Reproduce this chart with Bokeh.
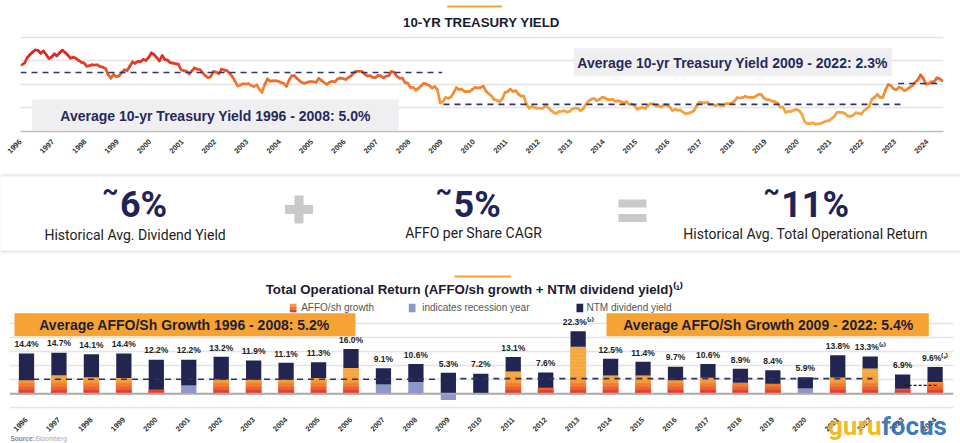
import math
from bokeh.plotting import figure
from bokeh.layouts import column
from bokeh.models import ColumnDataSource, FixedTicker, Range1d, Span, Label, BoxAnnotation
from bokeh.core.properties import value
from bokeh.embed import file_html
from bokeh.resources import INLINE

# ---------------- data ----------------
treasury_start_year = 1996
treasury_10y_monthly = [
    5.65, 5.81, 6.27, 6.51, 6.74, 6.91, 6.87, 6.64, 6.83, 6.53, 6.20, 6.30,   # 1996
    6.58, 6.42, 6.69, 6.89, 6.71, 6.49, 6.22, 6.30, 6.21, 6.03, 5.88, 5.81,   # 1997
    5.54, 5.57, 5.65, 5.64, 5.65, 5.50, 5.46, 5.34, 4.81, 4.53, 4.83, 4.65,   # 1998
    4.72, 5.00, 5.23, 5.18, 5.54, 5.90, 5.79, 5.94, 5.92, 6.11, 6.03, 6.28,   # 1999
    6.66, 6.52, 6.26, 5.99, 6.44, 6.10, 6.05, 5.83, 5.80, 5.74, 5.72, 5.24,   # 2000
    5.16, 5.10, 4.89, 5.14, 5.39, 5.28, 5.24, 4.97, 4.73, 4.57, 4.65, 5.09,   # 2001
    5.04, 4.91, 5.28, 5.21, 5.16, 4.93, 4.65, 4.26, 3.87, 3.94, 4.05, 4.03,   # 2002
    4.05, 3.90, 3.81, 3.96, 3.57, 3.33, 3.98, 4.45, 4.27, 4.29, 4.30, 4.27,   # 2003
    4.15, 4.08, 3.83, 4.35, 4.72, 4.73, 4.50, 4.28, 4.13, 4.10, 4.19, 4.23,   # 2004
    4.22, 4.17, 4.50, 4.34, 4.14, 4.00, 4.18, 4.26, 4.20, 4.46, 4.54, 4.47,   # 2005
    4.42, 4.57, 4.72, 4.99, 5.11, 5.11, 5.09, 4.88, 4.72, 4.73, 4.60, 4.56,   # 2006
    4.76, 4.72, 4.56, 4.69, 4.75, 5.10, 5.00, 4.67, 4.52, 4.53, 4.15, 4.10,   # 2007
    3.74, 3.74, 3.51, 3.68, 3.88, 4.10, 4.01, 3.89, 3.69, 3.81, 3.53, 2.42,   # 2008
    2.52, 2.87, 2.82, 2.93, 3.29, 3.72, 3.56, 3.59, 3.40, 3.39, 3.40, 3.59,   # 2009
    3.73, 3.69, 3.73, 3.85, 3.42, 3.20, 3.01, 2.70, 2.65, 2.54, 2.76, 3.29,   # 2010
    3.39, 3.58, 3.41, 3.46, 3.17, 3.00, 3.00, 2.30, 1.98, 2.15, 2.01, 1.98,   # 2011
    1.97, 1.97, 2.17, 2.05, 1.80, 1.62, 1.53, 1.68, 1.72, 1.75, 1.65, 1.72,   # 2012
    1.91, 1.98, 1.96, 1.76, 1.93, 2.30, 2.58, 2.74, 2.81, 2.62, 2.72, 2.90,   # 2013
    2.86, 2.71, 2.72, 2.71, 2.56, 2.60, 2.54, 2.42, 2.53, 2.30, 2.33, 2.21,   # 2014
    1.88, 1.98, 2.04, 1.94, 2.20, 2.36, 2.32, 2.17, 2.17, 2.07, 2.26, 2.24,   # 2015
    2.09, 1.78, 1.89, 1.81, 1.81, 1.64, 1.50, 1.56, 1.63, 1.76, 2.14, 2.49,   # 2016
    2.43, 2.42, 2.48, 2.30, 2.30, 2.19, 2.32, 2.21, 2.20, 2.36, 2.35, 2.40,   # 2017
    2.58, 2.86, 2.84, 2.87, 2.98, 2.91, 2.89, 2.89, 3.00, 3.15, 3.12, 2.83,   # 2018
    2.71, 2.68, 2.57, 2.53, 2.40, 2.07, 2.06, 1.63, 1.70, 1.71, 1.81, 1.86,   # 2019
    1.76, 1.50, 0.87, 0.66, 0.67, 0.73, 0.62, 0.65, 0.68, 0.79, 0.87, 0.93,   # 2020
    1.08, 1.26, 1.61, 1.64, 1.62, 1.52, 1.32, 1.28, 1.37, 1.58, 1.56, 1.47,   # 2021
    1.76, 1.93, 2.13, 2.75, 2.90, 3.14, 2.90, 2.90, 3.52, 3.98, 3.89, 3.62,   # 2022
    3.53, 3.75, 3.66, 3.46, 3.57, 3.75, 3.90, 4.17, 4.38, 4.80, 4.50, 4.02,   # 2023
    4.06, 4.21, 4.21, 4.54, 4.48, 4.31,                                       # 2024
]

avg_yield_1996_2008 = 5.0
avg_yield_2009_2022 = 2.3
yield_level_2023_2024 = 4.07

bar_years = list(range(1996, 2025))
affo_growth = [4.8, 6.6, 5.9, 5.6, 1.4, 3.0, 5.1, 5.0, 5.0, 5.6,
               9.2, 3.3, 4.2, -2.2, 0.2, 8.0, 2.2, 16.8, 6.5, 6.5,
               4.8, 5.7, 3.9, 3.6, 1.9, 5.8, 9.0, 1.8, 4.2]
ntm_dividend_yield = [9.6, 8.1, 8.2, 8.8, 10.8, 9.2, 8.1, 6.9, 6.1, 5.7,
                      6.8, 5.8, 6.4, 7.5, 7.0, 5.1, 5.4, 5.5, 6.0, 4.9,
                      4.9, 4.9, 5.0, 4.8, 4.0, 8.0, 4.3, 5.1, 5.4]
total_return = [14.4, 14.7, 14.1, 14.4, 12.2, 12.2, 13.2, 11.9, 11.1, 11.3,
                16.0, 9.1, 10.6, 5.3, 7.2, 13.1, 7.6, 22.3, 12.5, 11.4,
                9.7, 10.6, 8.9, 8.4, 5.9, 13.8, 13.3, 6.9, 9.6]
label_notes = {2013: "\u207d\u00b2\u207e", 2022: "\u207d\u00b2\u207e", 2024: "\u207d\u00b3\u207e"}
recession_years = [2001, 2007, 2008, 2009, 2020]

avg_affo_1996_2008 = 5.2
avg_affo_2009_2022 = 5.4
affo_level_2023_2024 = 3.0

# ---------------- styling helpers ----------------
NAVY = "#232551"
RECESSION = "#8F96C9"
BOX_ORANGE = "#F7A334"
TITLE_C = "#1B1B2F"
BOLD_FONT = "Liberation Sans"
BIG_FONT = "Roboto"


def interp_color(v, anchors):
    if v <= anchors[0][0]:
        c = anchors[0][1]
    elif v >= anchors[-1][0]:
        c = anchors[-1][1]
    else:
        for (a, ca), (b, cb) in zip(anchors, anchors[1:]):
            if a <= v <= b:
                t = (v - a) / (b - a)
                c = tuple(ca[i] + t * (cb[i] - ca[i]) for i in range(3))
                break
    return "#%02x%02x%02x" % tuple(int(round(x)) for x in c)


line_anchors = [(0.5, (247, 168, 72)), (2.5, (245, 158, 58)), (3.5, (243, 138, 50)),
                (4.5, (236, 104, 44)), (5.5, (228, 66, 40)), (6.8, (220, 34, 40))]
bar_anchors = [(0.0, (226, 38, 40)), (2.0, (236, 90, 44)), (4.0, (244, 140, 50)),
               (5.5, (247, 163, 58)), (8.0, (247, 167, 64))]

# ================= TOP: 10-yr treasury =================
A_X0, A_X1 = 1996.0, 2024.5
A_Y1 = 11.11
pA = figure(width=960, height=160, x_range=Range1d(A_X0, A_X1), y_range=Range1d(0, A_Y1),
            output_backend="svg", toolbar_location=None, frame_align=False,
            min_border_left=20, min_border_right=17, min_border_top=0, min_border_bottom=29)
pA.outline_line_color = None
pA.yaxis.visible = False
pA.xgrid.visible = False
pA.ygrid.ticker = FixedTicker(ticks=[2, 4, 6, 8])
pA.ygrid.grid_line_color = "#E4E4E4"
pA.ygrid.grid_line_width = 1.5


def ax_(px):
    return A_X0 + (px - 20) * (A_X1 - A_X0) / 923.0


def ay_(py):
    return (131 - py) * A_Y1 / 131.0


xa = pA.xaxis[0]
xa.ticker = FixedTicker(ticks=bar_years)
xa.major_label_orientation = math.pi / 4
xa.major_label_text_font = BOLD_FONT
xa.major_label_text_font_style = "bold"
xa.major_label_text_font_size = "7.5px"
xa.major_label_text_color = "#333333"
xa.axis_line_color = "#BDBDBD"
xa.axis_line_width = 1.5
xa.major_tick_line_color = None
xa.minor_tick_line_color = None
xa.major_label_standoff = 3

n = len(treasury_10y_monthly)
tx = [treasury_start_year + (i + 0.5) / 12.0 for i in range(n)]
seg = ColumnDataSource(dict(
    x0=tx[:-1], x1=tx[1:], y0=treasury_10y_monthly[:-1], y1=treasury_10y_monthly[1:],
    c=[interp_color((a + b) / 2, line_anchors) for a, b in zip(treasury_10y_monthly[:-1], treasury_10y_monthly[1:])]))
pA.segment(x0="x0", y0="y0", x1="x1", y1="y1", line_color="c", line_width=2.7, line_cap="round", source=seg)

pA.segment(x0=[1996.0, 2009.06, 2023.1], x1=[2009.02, 2023.17, 2024.42],
           y0=[avg_yield_1996_2008, avg_yield_2009_2022, yield_level_2023_2024],
           y1=[avg_yield_1996_2008, avg_yield_2009_2022, yield_level_2023_2024],
           line_color="#2F3468", line_width=1.6, line_dash="6 5")

pA.add_layout(BoxAnnotation(left=ax_(31.7), right=ax_(398.3), top=ay_(99), bottom=ay_(130),
                            fill_color="#EFEFF1", fill_alpha=1, line_color=None))
pA.add_layout(BoxAnnotation(left=ax_(573.3), right=ax_(891.7), top=ay_(47.7), bottom=ay_(75.7),
                            fill_color="#EFEFF1", fill_alpha=1, line_color=None))
pA.add_layout(Label(x=ax_(215), y=ay_(115), text="Average 10-yr Treasury Yield 1996 - 2008: %.1f%%" % avg_yield_1996_2008,
                    text_align="center", text_baseline="middle", text_font=BOLD_FONT, text_font_style="bold",
                    text_font_size="14px", text_color="#262A5A"))
pA.add_layout(Label(x=ax_(732), y=ay_(62), text="Average 10-yr Treasury Yield 2009 - 2022: %.1f%%" % avg_yield_2009_2022,
                    text_align="center", text_baseline="middle", text_font=BOLD_FONT, text_font_style="bold",
                    text_font_size="14px", text_color="#262A5A"))
pA.add_layout(Label(x=ax_(481), y=ay_(22), text="10-YR TREASURY YIELD", text_align="center",
                    text_baseline="middle", text_font=BOLD_FONT, text_font_style="bold",
                    text_font_size="13.3px", text_color=TITLE_C))
pA.segment(x0=[ax_(446.7)], x1=[ax_(501.7)], y0=[ay_(6)], y1=[ay_(6)], line_color=BOX_ORANGE, line_width=1.8)

# ================= MIDDLE band =================
pB = figure(width=960, height=100, x_range=Range1d(0, 960), y_range=Range1d(0, 100),
            output_backend="svg", toolbar_location=None, frame_align=False,
            min_border_left=0, min_border_right=0, min_border_top=0, min_border_bottom=0)
pB.outline_line_color = None
pB.xaxis.visible = False
pB.yaxis.visible = False
pB.grid.visible = False


def by_(py):
    return 260 - py


pB.quad(left=[0, 0, 0], right=[960, 960, 960], top=[by_(172.5), by_(174.5), by_(176)],
        bottom=[by_(253.5), by_(251.5), by_(250)], fill_color=["#F4F4F4", "#E9E9E9", "#FFFFFF"],
        line_color=None)
# plus and equal signs
pB.quad(left=[284.5, 294.0, 618, 618], right=[312.5, 303.0, 646, 646],
        top=[by_(204.5), by_(195), by_(199), by_(213.5)], bottom=[by_(213.5), by_(223), by_(207), by_(221.5)],
        fill_color="#C9C9C9", line_color=None)

big = [("6%", 119.4, "Historical Avg. Dividend Yield", 134.6, 234.5),
       ("5%", 453.0, "AFFO per Share CAGR", 473.0, 232.0),
       ("11%", 780.7, "Historical Avg. Total Operational Return", 805.0, 233.0)]
for num, nx, sub, sx, sy in big:
    pB.add_layout(Label(x=nx, y=by_(204.5), text=num, text_align="left", text_baseline="middle",
                        text_font=BIG_FONT, text_font_style="bold", text_font_size="36px", text_color="#1F2356"))
    pB.add_layout(Label(x=nx - 1.5, y=by_(191), text="~", text_align="right", text_baseline="middle",
                        text_font=BIG_FONT, text_font_style="bold", text_font_size="25px", text_color="#1F2356"))
    pB.add_layout(Label(x=sx, y=by_(sy), text=sub, text_align="center", text_baseline="middle",
                        text_font=BIG_FONT, text_font_size="14px", text_color="#222222"))

# ================= BOTTOM: total operational return =================
C_X0, C_X1 = 1995.476, 2024.567
C_Y0, C_Y1 = -17.75, 47.6
pC = figure(width=960, height=183, x_range=Range1d(C_X0, C_X1), y_range=Range1d(C_Y0, C_Y1),
            output_backend="svg", toolbar_location=None, frame_align=False,
            min_border_left=9, min_border_right=7, min_border_top=0, min_border_bottom=0)
pC.outline_line_color = None
pC.yaxis.visible = False
pC.xgrid.visible = False
pC.ygrid.ticker = FixedTicker(ticks=[-5, 5, 10, 15, 20, 25])
pC.ygrid.grid_line_color = "#E4E4E4"
pC.ygrid.grid_line_width = 1.5


def cx_(px):
    return C_X0 + (px - 9) * (C_X1 - C_X0) / 944.0


def cy_(py):
    return (393.3 - py) / 2.8


xc = pC.xaxis[0]
xc.fixed_location = cy_(408)
xc.ticker = FixedTicker(ticks=bar_years)
xc.major_label_orientation = math.pi / 4
xc.major_label_text_font = BOLD_FONT
xc.major_label_text_font_style = "bold"
xc.major_label_text_font_size = "7.5px"
xc.major_label_text_color = "#333333"
xc.axis_line_color = None
xc.major_tick_line_color = None
xc.minor_tick_line_color = None
xc.major_label_standoff = 4

pC.add_layout(Span(location=0, dimension="width", line_color="#A9A9A9", line_width=2))

BW = 0.47
gx, gb, gt, gc = [], [], [], []
step = 0.5
for yr, g in zip(bar_years, affo_growth):
    if yr in recession_years or g <= 0:
        continue
    k = 0.0
    while k < g - 1e-9:
        top = min(k + step, g)
        gx.append(yr); gb.append(k); gt.append(top); gc.append(interp_color((k + top) / 2, bar_anchors))
        k += step
pC.vbar(x=gx, bottom=gb, top=gt, width=BW, fill_color=gc, line_color=gc, line_width=0.6)

rx = [yr for yr in bar_years if yr in recession_years]
rg = [g for yr, g in zip(bar_years, affo_growth) if yr in recession_years]
pC.vbar(x=rx, bottom=[min(g, 0) for g in rg], top=[max(g, 0) for g in rg], width=BW,
        fill_color=RECESSION, line_color=None)

nb = [max(g, 0) for g in affo_growth]
nt = [max(g, 0) + d for g, d in zip(affo_growth, ntm_dividend_yield)]
pC.vbar(x=bar_years, bottom=nb, top=nt, width=BW, fill_color=NAVY, line_color=None)

pC.text(x=bar_years, y=[t + 1.5 for t in nt],
        text=["%.1f%%%s" % (v, label_notes.get(yr, "")) for yr, v in zip(bar_years, total_return)],
        text_align="center", text_baseline="bottom", text_font=value(BOLD_FONT), text_font_style="bold",
        text_font_size="8.5px", text_color="#222222")

pC.segment(x0=[1996.2, 2009.37], x1=[2008.69, 2022.07], y0=[avg_affo_1996_2008, avg_affo_2009_2022],
           y1=[avg_affo_1996_2008, avg_affo_2009_2022], line_color="#2F3468", line_width=1.6, line_dash="6 5")
pC.segment(x0=[2023.03], x1=[2024.08], y0=[affo_level_2023_2024], y1=[affo_level_2023_2024],
           line_color="#111111", line_width=1.3, line_dash="3 2")

pC.add_layout(BoxAnnotation(left=cx_(14), right=cx_(355), top=cy_(312.7), bottom=cy_(335.7),
                            fill_color=BOX_ORANGE, fill_alpha=1, line_color=None))
pC.add_layout(BoxAnnotation(left=cx_(606), right=cx_(928.3), top=cy_(312.7), bottom=cy_(335.7),
                            fill_color=BOX_ORANGE, fill_alpha=1, line_color=None))
pC.add_layout(Label(x=cx_(184), y=cy_(324.5), text="Average AFFO/Sh Growth 1996 - 2008: %.1f%%" % avg_affo_1996_2008,
                    text_align="center", text_baseline="middle", text_font=BOLD_FONT, text_font_style="bold",
                    text_font_size="14px", text_color="#1E1E3A"))
pC.add_layout(Label(x=cx_(768), y=cy_(324.5), text="Average AFFO/Sh Growth 2009 - 2022: %.1f%%" % avg_affo_2009_2022,
                    text_align="center", text_baseline="middle", text_font=BOLD_FONT, text_font_style="bold",
                    text_font_size="14px", text_color="#1E1E3A"))

pC.add_layout(Label(x=cx_(474), y=cy_(289), text="Total Operational Return (AFFO/sh growth + NTM dividend yield)\u207d\u00b9\u207e",
                    text_align="center", text_baseline="middle", text_font=BOLD_FONT, text_font_style="bold",
                    text_font_size="13.3px", text_color=TITLE_C))
pC.segment(x0=[cx_(454)], x1=[cx_(510.7)], y0=[cy_(276)], y1=[cy_(276)], line_color=BOX_ORANGE, line_width=1.8)

# legend
pC.quad(left=[cx_(289.3)] * 3, right=[cx_(296)] * 3,
        top=[cy_(303.3), cy_(306.1), cy_(308.9)], bottom=[cy_(306.1), cy_(308.9), cy_(311.7)],
        fill_color=["#F59A36", "#EE6A30", "#E43A2C"], line_color=None)
pC.quad(left=[cx_(408.3), cx_(576)], right=[cx_(415), cx_(582.7)], top=[cy_(303.3)] * 2, bottom=[cy_(311.7)] * 2,
        fill_color=[RECESSION, NAVY], line_color=None)
for txt, lx in [("AFFO/sh growth", 300.7), ("indicates recession year", 421.7), ("NTM dividend yield", 586)]:
    pC.add_layout(Label(x=cx_(lx), y=cy_(307.5), text=txt, text_align="left", text_baseline="middle",
                        text_font=BOLD_FONT, text_font_size="10px", text_color="#555555"))

# footer / watermark
pC.add_layout(Label(x=cx_(10), y=cy_(438), text="Source:", text_align="left", text_baseline="middle",
                    text_font=BOLD_FONT, text_font_style="bold", text_font_size="6.5px", text_color="#888888"))
pC.add_layout(Label(x=cx_(35), y=cy_(438), text="Bloomberg", text_align="left", text_baseline="middle",
                    text_font=BOLD_FONT, text_font_size="6.5px", text_color="#AAAAAA"))
pC.add_layout(Label(x=cx_(881), y=cy_(426), text="guru", text_align="right", text_baseline="alphabetic",
                    text_font=BIG_FONT, text_font_style="bold", text_font_size="26px", text_color="#F2B10A",
                    text_alpha=0.9))
pC.add_layout(Label(x=cx_(881), y=cy_(426), text="focus", text_align="left", text_baseline="alphabetic",
                    text_font=BIG_FONT, text_font_style="bold", text_font_size="26px", text_color="#2468B5",
                    text_alpha=0.9))

layout = column(pA, pB, pC, spacing=0)
open("out.html", "w").write(file_html(layout, INLINE))
